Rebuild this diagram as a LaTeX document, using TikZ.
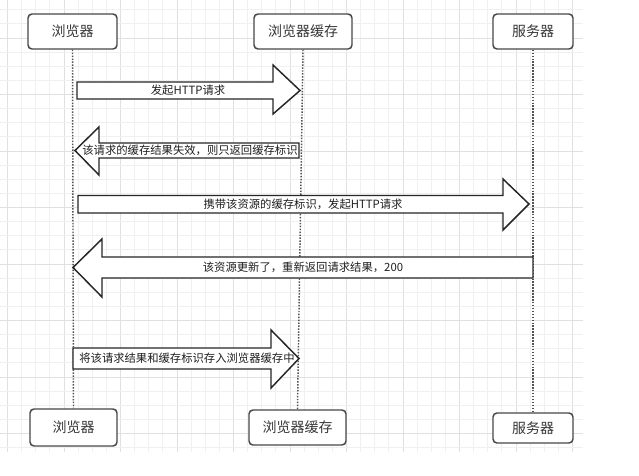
\documentclass[tikz,border=0pt]{standalone}
\usepackage{fontspec}
\newfontfamily\cjk{Noto Sans CJK SC}
\usetikzlibrary{calc}

\begin{document}
\begin{tikzpicture}[
  x=0.75pt, y=-0.75pt,
  font=\cjk,
  actor/.style={draw=black!72, line width=1.1pt, rounded corners=3pt, fill=white, text=black!78,
    font=\cjk\fontsize{10.5}{12}\selectfont, inner sep=0pt, minimum height=26.25pt},
  lifeline/.style={draw=black!68, line width=1.1pt, dash pattern=on 1.1pt off 1.1pt},
  msgarrow/.style={draw=black!85, fill=white, line width=1.1pt, line join=miter},
  msgtext/.style={font=\cjk\fontsize{8.5}{10}\selectfont, text=black!88, inner sep=0pt},
  gridminor/.style={draw=black!6, line width=0.6pt},
  gridmajor/.style={draw=black!12, line width=0.6pt}
]

\useasboundingbox (0,0) rectangle (639,475);
\fill[white] (0,0) rectangle (639,475);

% background grid
\foreach \i in {0,...,40} {
  \pgfmathtruncatemacro\m{mod(\i,4)}
  \ifnum\m=0 \draw[gridmajor] ({7.5+14.125*\i},0) -- ++(0,452);
  \else \draw[gridminor] ({7.5+14.125*\i},0) -- ++(0,452); \fi
}
\foreach \j in {0,...,31} {
  \pgfmathtruncatemacro\m{mod(\j+2,4)}
  \ifnum\m=0 \draw[gridmajor] (0,{9.75+14.125*\j}) -- ++(583,0);
  \else \draw[gridminor] (0,{9.75+14.125*\j}) -- ++(583,0); \fi
}

% participants
\node[actor, minimum width=66.75pt] (browser-top) at (72.5,31.5) {浏览器};
\node[actor, minimum width=73.5pt] (cache-top) at (303,31.5) {浏览器缓存};
\node[actor, minimum width=60pt] (server-top) at (533,31.5) {服务器};

\node[actor, minimum width=65.25pt, minimum height=27.75pt] (browser-bot) at (73.5,427.5) {浏览器};
\node[actor, minimum width=72.75pt] (cache-bot) at (297.5,427.5) {浏览器缓存};
\node[actor, minimum width=60pt, minimum height=22.5pt] (server-bot) at (533,428) {服务器};

\draw[lifeline] (browser-top.south) -- (browser-bot.north);
\draw[lifeline] (cache-top.south) -- (cache-bot.north);
\draw[lifeline] (server-top.south) -- (server-bot.north);

% messages
\draw[msgarrow] (77,82) -- (273,82) -- (273,65) -- (300,90.5) -- (273,114) -- (273,99) -- (77,99) -- cycle;
\node[msgtext] (req) at (188,90.5) {发起HTTP请求};

\draw[msgarrow] (299,143) -- (99,143) -- (99,127) -- (75,150.5) -- (99,175) -- (99,158) -- (299,158) -- cycle;
\node[msgtext] (expired) at (190,150.5) {该请求的缓存结果失效，则只返回缓存标识};

\draw[msgarrow] (78,195.5) -- (503,195.5) -- (503,179) -- (529,204) -- (503,230) -- (503,213) -- (78,213) -- cycle;
\node[msgtext] (revalidate) at (303,204) {携带该资源的缓存标识，发起HTTP请求};

\draw[msgarrow] (533,257) -- (102,257) -- (102,239) -- (73,267.5) -- (102,297) -- (102,278) -- (533,278) -- cycle;
\node[msgtext] (updated) at (303,267.5) {该资源更新了，重新返回请求结果，200};

\draw[msgarrow] (73,348) -- (271,348) -- (271,330) -- (299,358.5) -- (271,388) -- (271,369) -- (73,369) -- cycle;
\node[msgtext] (store) at (187,358.5) {将该请求结果和缓存标识存入浏览器缓存中};

\end{tikzpicture}
\end{document}
